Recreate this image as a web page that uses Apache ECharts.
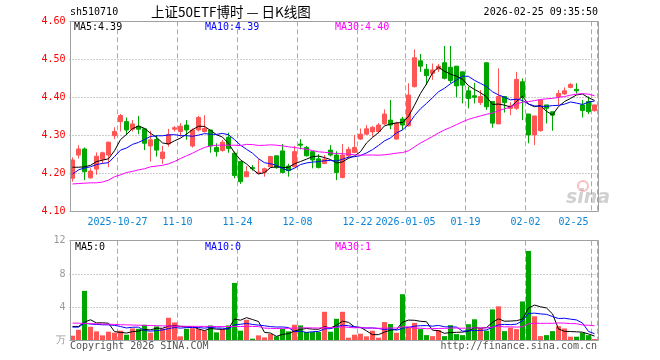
<!DOCTYPE html>
<html>
<head>
<meta charset="utf-8">
<script src="https://cdn.jsdelivr.net/npm/echarts@6/dist/echarts.min.js"></script>
<style>html,body{margin:0;padding:0;background:#fff}#c{width:660px;height:360px}</style>
</head>
<body>
<div id="c"></div>
<script>
const dates = [
'2025-10-15','2025-10-16','2025-10-17','2025-10-20','2025-10-21','2025-10-22','2025-10-23','2025-10-24',
'2025-10-27','2025-10-28','2025-10-29','2025-10-30','2025-10-31',
'2025-11-03','2025-11-04','2025-11-05','2025-11-06','2025-11-07',
'2025-11-10','2025-11-11','2025-11-12','2025-11-13','2025-11-14',
'2025-11-17','2025-11-18','2025-11-19','2025-11-20','2025-11-21',
'2025-11-24','2025-11-25','2025-11-26','2025-11-27','2025-11-28',
'2025-12-01','2025-12-02','2025-12-03','2025-12-04','2025-12-05',
'2025-12-08','2025-12-09','2025-12-10','2025-12-11','2025-12-12',
'2025-12-15','2025-12-16','2025-12-17','2025-12-18','2025-12-19',
'2025-12-22','2025-12-23','2025-12-24','2025-12-25','2025-12-26',
'2025-12-29','2025-12-30','2025-12-31',
'2026-01-05','2026-01-06','2026-01-07','2026-01-08','2026-01-09',
'2026-01-12','2026-01-13','2026-01-14','2026-01-15','2026-01-16',
'2026-01-19','2026-01-20','2026-01-21','2026-01-22','2026-01-23',
'2026-01-26','2026-01-27','2026-01-28','2026-01-29','2026-01-30',
'2026-02-02','2026-02-03','2026-02-04','2026-02-05','2026-02-06',
'2026-02-09','2026-02-10','2026-02-11','2026-02-12','2026-02-13',
'2026-02-24','2026-02-25'];

const tickDates = ['2025-10-27','2025-11-10','2025-11-24','2025-12-08','2025-12-22','2026-01-05','2026-01-19','2026-02-02','2026-02-25'];
const tickLabels = ['2025-10-27','11-10','11-24','12-08','12-22','2026-01-05','01-19','02-02','02-25'];

const opens = [4.187,4.248,4.264,4.188,4.211,4.237,4.248,4.299,4.336,4.336,
4.316,4.324,4.317,4.272,4.289,4.239,4.277,4.316,4.310,4.327,
4.272,4.314,4.310,4.314,4.268,4.260,4.295,4.253,4.231,4.191,
4.215,4.200,4.203,4.217,4.246,4.259,4.219,4.217,4.277,4.268,
4.257,4.238,4.226,4.261,4.248,4.189,4.246,4.255,4.290,4.303,
4.309,4.310,4.330,4.340,4.290,4.343,4.325,4.428,4.496,4.474,
4.463,4.474,4.491,4.479,4.482,4.467,4.417,4.404,4.386,4.491,
4.389,4.330,4.402,4.371,4.371,4.441,4.356,4.301,4.312,4.380,
4.362,4.402,4.409,4.426,4.421,4.380,4.389,4.365];
const closes = [4.235,4.264,4.204,4.206,4.245,4.254,4.282,4.310,4.352,4.314,
4.330,4.316,4.279,4.288,4.261,4.256,4.302,4.320,4.324,4.314,
4.314,4.347,4.318,4.272,4.257,4.282,4.265,4.194,4.178,4.204,
4.212,4.203,4.212,4.244,4.215,4.202,4.207,4.257,4.274,4.246,
4.235,4.215,4.237,4.248,4.202,4.248,4.263,4.268,4.303,4.317,
4.321,4.327,4.356,4.327,4.332,4.327,4.406,4.504,4.482,4.457,
4.472,4.482,4.450,4.444,4.430,4.432,4.397,4.400,4.402,4.375,
4.332,4.402,4.386,4.377,4.447,4.400,4.301,4.351,4.393,4.371,
4.353,4.410,4.417,4.434,4.417,4.365,4.362,4.380];
const lows = [4.178,4.239,4.182,4.186,4.196,4.226,4.216,4.290,4.310,4.301,
4.310,4.303,4.261,4.231,4.244,4.225,4.270,4.310,4.297,4.288,
4.268,4.310,4.307,4.254,4.244,4.257,4.254,4.187,4.172,4.190,
4.207,4.198,4.191,4.216,4.212,4.200,4.191,4.216,4.263,4.244,
4.213,4.213,4.224,4.244,4.182,4.187,4.239,4.253,4.288,4.301,
4.296,4.305,4.327,4.316,4.289,4.314,4.323,4.426,4.467,4.432,
4.446,4.467,4.447,4.437,4.400,4.384,4.371,4.384,4.380,4.367,
4.320,4.330,4.360,4.353,4.367,4.340,4.279,4.274,4.310,4.331,
4.312,4.380,4.406,4.424,4.410,4.347,4.356,4.362];
const highs = [4.242,4.274,4.268,4.213,4.255,4.257,4.283,4.321,4.356,4.347,
4.340,4.351,4.317,4.312,4.301,4.272,4.317,4.324,4.332,4.340,
4.318,4.351,4.353,4.314,4.279,4.288,4.307,4.257,4.231,4.219,
4.222,4.237,4.215,4.246,4.246,4.277,4.225,4.272,4.290,4.272,
4.257,4.250,4.248,4.274,4.258,4.277,4.270,4.301,4.318,4.327,
4.324,4.332,4.368,4.393,4.336,4.349,4.437,4.526,4.514,4.488,
4.489,4.488,4.535,4.535,4.482,4.467,4.428,4.438,4.419,4.491,
4.389,4.476,4.402,4.387,4.467,4.450,4.356,4.351,4.393,4.380,
4.362,4.419,4.426,4.437,4.437,4.393,4.402,4.380];

const volumes = [0.60,1.31,5.98,1.67,1.12,0.64,1.08,0.96,1.20,0.72,
1.47,1.43,1.91,0.96,1.71,1.43,2.75,2.19,0.52,1.43,
1.51,1.39,1.20,1.83,1.00,1.35,1.83,6.93,1.20,2.51,
0.24,0.64,0.40,0.80,0.52,1.43,1.12,1.91,1.83,1.04,
1.04,1.04,3.47,1.08,2.63,3.47,0.36,0.72,0.84,0.52,
1.20,0.36,2.24,2.00,0.95,5.58,1.58,2.14,1.39,0.67,
0.55,1.27,0.55,1.86,0.79,0.67,1.98,2.57,1.47,1.19,
3.76,4.12,1.15,1.58,1.39,4.71,10.77,2.93,0.55,0.67,
1.15,1.74,1.47,0.48,0.48,0.95,0.67,0.20];

// moving-average values before enough history is visible
const ma5Head = [4.216,4.216,4.217,4.221];
const ma10Head = [4.198,4.209,4.214,4.217,4.223,4.226,4.228,4.244,4.261];
const ma30Head = [4.172,4.173,4.174,4.175,4.175,4.177,4.182,4.191,4.196,4.202,
4.205,4.209,4.212,4.217,4.219,4.221,4.225,4.231,4.239,4.246,
4.253,4.261,4.268,4.272,4.274,4.274,4.274,4.274,4.273];
const vma5Head = [1.71,1.71,2.23,2.51];
const vma10Head = [1.63,1.63,2.10,2.00,1.95,1.91,1.90,1.85,1.70];
const vma30Head = [2.11,2.10,2.08,2.05,2.03,2.00,1.98,1.95,1.92,1.90,
1.88,1.86,1.84,1.82,1.80,1.78,1.76,1.75,1.74,1.73,
1.72,1.72,1.71,1.71,1.70,1.70,1.70,1.70,1.70];

function movingAverage(values, n, head) {
  return values.map(function (v, i) {
    if (i < n - 1) return head[i];
    let s = 0;
    for (let k = i - n + 1; k <= i; k++) s += values[k];
    return +(s / n).toFixed(4);
  });
}

const UP = '#ff5555', DOWN = '#00a600';
const MONO = '"DejaVu Sans Mono", "Liberation Mono", monospace';
const tickIdx = tickDates.map(d => dates.indexOf(d));
const isTick = (i) => tickIdx.indexOf(i) >= 0;

const kData = dates.map((d, i) => [opens[i], closes[i], lows[i], highs[i]]);
const volData = volumes.map((v, i) => ({
  value: v,
  itemStyle: { color: closes[i] >= opens[i] ? UP : DOWN }
}));

const splitV = { show: true, interval: (i) => isTick(i), lineStyle: { color: '#aaaaaa', type: [5, 3], width: 1 } };

const chart = echarts.init(document.getElementById('c'), null, { renderer: 'canvas' });
const option = {
  animation: false,
  backgroundColor: '#ffffff',
  grid: [
    { left: 69.5, top: 21.3, width: 528, height: 190 },
    { left: 69.5, top: 240.7, width: 528, height: 100 }
  ],
  xAxis: [
    {
      type: 'category', gridIndex: 0, data: dates, boundaryGap: true,
      axisLine: { show: false }, axisTick: { show: false },
      axisLabel: {
        interval: (i) => isTick(i),
        formatter: (v) => tickLabels[tickDates.indexOf(v)] || '',
        color: '#0a84d6', fontFamily: MONO, fontSize: 10, margin: 6,
        padding: [0, 6, 0, 0], alignMaxLabel: 'right'
      },
      splitLine: splitV
    },
    {
      type: 'category', gridIndex: 1, data: dates, boundaryGap: true,
      axisLine: { show: false }, axisTick: { show: false }, axisLabel: { show: false },
      splitLine: splitV
    }
  ],
  yAxis: [
    {
      type: 'value', gridIndex: 0, min: 4.1, max: 4.6, interval: 0.1,
      axisLine: { show: false }, axisTick: { show: false },
      axisLabel: { formatter: (v) => v.toFixed(2), color: '#ff0000', fontFamily: MONO, fontSize: 10, margin: 4 },
      splitLine: { lineStyle: { color: '#999999', type: [1, 2] } }
    },
    {
      type: 'value', gridIndex: 1, min: 0, max: 12, interval: 4,
      axisLine: { show: false }, axisTick: { show: false },
      axisLabel: { formatter: (v) => v === 0 ? '万' : String(v), color: '#999999', fontFamily: MONO, fontSize: 10, margin: 4 },
      splitLine: { lineStyle: { color: '#999999', type: [1, 2] } }
    }
  ],
  series: [
    {
      type: 'candlestick', xAxisIndex: 0, yAxisIndex: 0, data: kData, barWidth: 4,
      itemStyle: { color: UP, color0: DOWN, borderColor: UP, borderColor0: DOWN, borderWidth: 1 }
    },
    { type: 'line', xAxisIndex: 0, yAxisIndex: 0, data: movingAverage(closes, 5, ma5Head), showSymbol: false, lineStyle: { color: '#000000', width: 1 } },
    { type: 'line', xAxisIndex: 0, yAxisIndex: 0, data: movingAverage(closes, 10, ma10Head), showSymbol: false, lineStyle: { color: '#0000ff', width: 1 } },
    { type: 'line', xAxisIndex: 0, yAxisIndex: 0, data: movingAverage(closes, 30, ma30Head), showSymbol: false, lineStyle: { color: '#ff00ff', width: 1 } },
    { type: 'bar', xAxisIndex: 1, yAxisIndex: 1, data: volData, barWidth: 5 },
    { type: 'line', xAxisIndex: 1, yAxisIndex: 1, data: movingAverage(volumes, 5, vma5Head), showSymbol: false, lineStyle: { color: '#000000', width: 1 } },
    { type: 'line', xAxisIndex: 1, yAxisIndex: 1, data: movingAverage(volumes, 10, vma10Head), showSymbol: false, lineStyle: { color: '#0000ff', width: 1 } },
    { type: 'line', xAxisIndex: 1, yAxisIndex: 1, data: movingAverage(volumes, 30, vma30Head), showSymbol: false, lineStyle: { color: '#ff00ff', width: 1 } }
  ],
  graphic: [
    { type: 'rect', z: 50, silent: true, shape: { x: 70.5, y: 21.5, width: 528, height: 190 }, style: { fill: 'none', stroke: '#a0a0a0', lineWidth: 1 } },
    { type: 'rect', z: 50, silent: true, shape: { x: 70.5, y: 240.5, width: 528, height: 100 }, style: { fill: 'none', stroke: '#a0a0a0', lineWidth: 1 } },
    { type: 'text', z: 60, x: 70, y: 12, style: { text: 'sh510710', fill: '#000', font: '10px ' + MONO, align: 'left', verticalAlign: 'middle' } },
    { type: 'text', z: 60, x: 151, y: 12, style: { text: '上证50ETF博时 — 日K线图', fill: '#000', font: '13.5px "Noto Sans CJK SC", sans-serif', align: 'left', verticalAlign: 'middle' } },
    { type: 'text', z: 60, x: 598, y: 12, style: { text: '2026-02-25 09:35:50', fill: '#000', font: '10px ' + MONO, align: 'right', verticalAlign: 'middle' } },
    { type: 'text', z: 60, x: 74, y: 27, style: { text: 'MA5:4.39', fill: '#000000', font: '10px ' + MONO, align: 'left', verticalAlign: 'middle' } },
    { type: 'text', z: 60, x: 205, y: 27, style: { text: 'MA10:4.39', fill: '#0000ff', font: '10px ' + MONO, align: 'left', verticalAlign: 'middle' } },
    { type: 'text', z: 60, x: 335, y: 27, style: { text: 'MA30:4.40', fill: '#ff00ff', font: '10px ' + MONO, align: 'left', verticalAlign: 'middle' } },
    { type: 'text', z: 60, x: 75, y: 247, style: { text: 'MA5:0', fill: '#000000', font: '10px ' + MONO, align: 'left', verticalAlign: 'middle' } },
    { type: 'text', z: 60, x: 205, y: 247, style: { text: 'MA10:0', fill: '#0000ff', font: '10px ' + MONO, align: 'left', verticalAlign: 'middle' } },
    { type: 'text', z: 60, x: 335, y: 247, style: { text: 'MA30:1', fill: '#ff00ff', font: '10px ' + MONO, align: 'left', verticalAlign: 'middle' } },
    { type: 'text', z: 60, x: 70, y: 346, style: { text: 'Copyright 2026 SINA.COM', fill: '#555555', font: '10px ' + MONO, align: 'left', verticalAlign: 'middle' } },
    { type: 'text', z: 60, x: 597, y: 346, style: { text: 'http://finance.sina.com.cn', fill: '#555555', font: '10px ' + MONO, align: 'right', verticalAlign: 'middle' } },
    { type: 'circle', z: 40, silent: true, shape: { cx: 583, cy: 186, r: 5 }, style: { fill: 'none', stroke: 'rgba(235,110,110,0.45)', lineWidth: 2 } },
    { type: 'text', z: 40, x: 566, y: 198, style: { text: 'sina', fill: 'rgba(150,150,150,0.45)', font: 'italic bold 19px "DejaVu Sans", sans-serif', align: 'left', verticalAlign: 'middle' } }
  ]
};
chart.setOption(option);
</script>
</body>
</html>
